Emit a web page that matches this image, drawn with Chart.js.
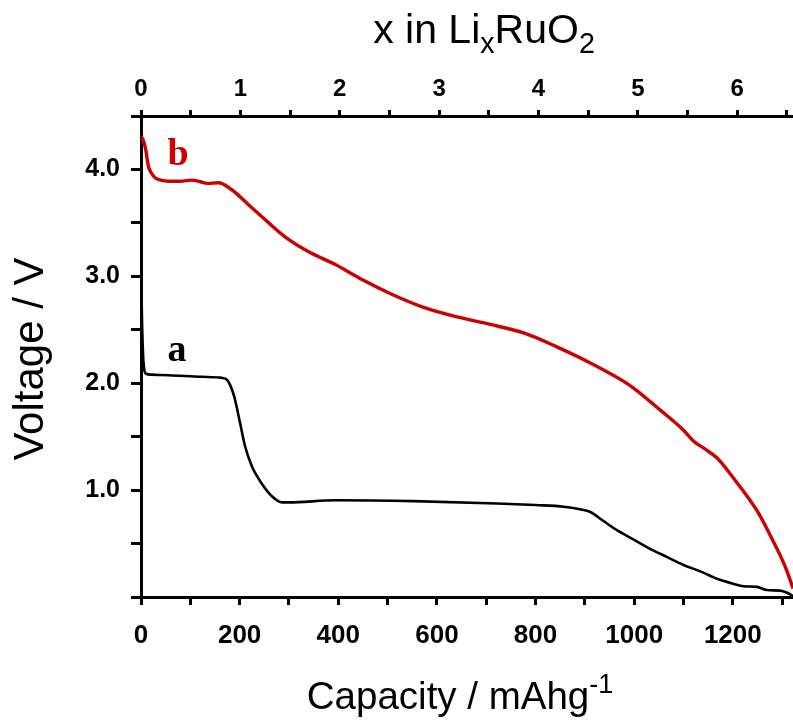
<!DOCTYPE html>
<html>
<head>
<meta charset="utf-8">
<script src="https://cdn.jsdelivr.net/npm/chart.js@4.4.0/dist/chart.umd.min.js"></script>
<style>
  html, body { margin: 0; padding: 0; background: #fff; }
</style>
</head>
<body>
<canvas id="myChart" width="793" height="725"></canvas>
<script>
// curve a (black)
const capA = [0, 2, 5, 10, 20, 56, 124, 164, 175, 181, 186, 191, 201, 211, 225, 245, 266, 286, 300, 394, 553, 722, 800, 857, 890, 911, 935, 965, 1000, 1032, 1066, 1100, 1134, 1168, 1200, 1222, 1249, 1269, 1296, 1310, 1322];
const voltA = [3.12, 2.6, 2.2, 2.09, 2.08, 2.075, 2.06, 2.05, 2.03, 1.98, 1.92, 1.84, 1.625, 1.41, 1.22, 1.06, 0.94, 0.885, 0.885, 0.905, 0.897, 0.875, 0.86, 0.845, 0.82, 0.795, 0.72, 0.625, 0.535, 0.45, 0.375, 0.30, 0.24, 0.17, 0.125, 0.10, 0.095, 0.065, 0.06, 0.04, 0.01];

// curve b (red)
const capB = [0, 4, 9, 15, 22, 29, 40, 56, 80, 103, 120, 134, 157, 184, 218, 259, 292, 340, 394, 448, 505, 573, 641, 708, 776, 843, 911, 978, 1000, 1050, 1100, 1120, 1145, 1168, 1200, 1250, 1282, 1300, 1310, 1322];
const voltB = [4.31, 4.28, 4.2, 4.03, 3.96, 3.92, 3.90, 3.89, 3.89, 3.90, 3.885, 3.87, 3.875, 3.81, 3.67, 3.50, 3.37, 3.23, 3.11, 2.97, 2.84, 2.71, 2.62, 2.55, 2.47, 2.34, 2.19, 2.02, 1.95, 1.76, 1.56, 1.46, 1.38, 1.30, 1.12, 0.80, 0.52, 0.35, 0.24, 0.08];

// axes
const capMax = 1322;
const mAhPerLi = 201.5;
const capTicks = [0, 100, 200, 300, 400, 500, 600, 700, 800, 900, 1000, 1100, 1200, 1300];
const liTicks = [0, 0.5, 1, 1.5, 2, 2.5, 3, 3.5, 4, 4.5, 5, 5.5, 6, 6.5];
const voltTicks = [0, 0.5, 1, 1.5, 2, 2.5, 3, 3.5, 4, 4.5];

// curve labels
const curveNames = ['a', 'b'];
const curveColors = ['#000000', '#cc0000'];
const nameCap = [73, 75];
const nameVolt = [2.21, 4.04];

const sans = "'Liberation Sans', Arial, Helvetica, sans-serif";
const serif = "'Liberation Serif', 'Times New Roman', serif";

function toPts(xs, ys) {
    return xs.map((x, i) => ({ x: x, y: ys[i] }));
}

function drawRuns(c, runs, cx, baseY, size) {
    let total = 0;
    runs.forEach(r => {
        c.font = (r[1] ? size * 0.7 : size) + 'px ' + sans;
        total += c.measureText(r[0]).width;
    });
    let x = cx - total / 2;
    runs.forEach(r => {
        c.font = (r[1] ? size * 0.7 : size) + 'px ' + sans;
        let dy = 0;
        if (r[1] === 1) dy = size * 0.25;
        if (r[1] === 2) dy = -size * 0.42;
        c.fillText(r[0], x, baseY + dy);
        x += c.measureText(r[0]).width;
    });
}

const textPlugin = {
    id: 'textPlugin',
    afterDraw(chart) {
        const c = chart.ctx;
        const xs = chart.scales.x, ys = chart.scales.y;
        c.save();
        c.fillStyle = '#000';
        c.textAlign = 'left';
        c.textBaseline = 'alphabetic';
        drawRuns(c, [['x in Li', 0], ['x', 1], ['RuO', 0], ['2', 1]], 484, 43, 41);
        drawRuns(c, [['Capacity / mAhg', 0], ['-1', 2]], 460, 709, 38.5);

        c.save();
        c.translate(43, 359);
        c.rotate(-Math.PI / 2);
        c.textAlign = 'center';
        c.font = '42px ' + sans;
        c.fillText('Voltage / V', 0, 0);
        c.restore();

        c.textAlign = 'center';
        c.font = 'bold 38px ' + serif;
        curveNames.forEach((n, i) => {
            c.fillStyle = curveColors[i];
            c.fillText(n, xs.getPixelForValue(nameCap[i]), ys.getPixelForValue(nameVolt[i]));
        });
        c.restore();
    }
};

function noSidePad(s) {
    s.paddingLeft = 0;
    s.paddingRight = 0;
}

const ctx = document.getElementById('myChart').getContext('2d');
const myChart = new Chart(ctx, {
    type: 'line',
    data: {
        datasets: [{
            label: 'a',
            data: toPts(capA, voltA),
            borderColor: curveColors[0],
            borderWidth: 2.6,
            pointRadius: 0,
            cubicInterpolationMode: 'monotone',
            xAxisID: 'x',
            yAxisID: 'y'
        }, {
            label: 'b',
            data: toPts(capB, voltB),
            borderColor: curveColors[1],
            borderWidth: 3.4,
            pointRadius: 0,
            cubicInterpolationMode: 'monotone',
            xAxisID: 'x',
            yAxisID: 'y'
        }]
    },
    options: {
        responsive: false,
        animation: false,
        layout: { padding: 0 },
        plugins: {
            legend: { display: false },
            tooltip: { enabled: false }
        },
        scales: {
            x: {
                type: 'linear',
                position: 'bottom',
                min: 0,
                max: capMax,
                afterBuildTicks: s => { s.ticks = capTicks.map(v => ({ value: v })); },
                afterFit: s => { s.height = 128; noSidePad(s); },
                border: { color: '#000', width: 3 },
                grid: { drawOnChartArea: false, tickLength: 8, tickWidth: 3, tickColor: '#000' },
                ticks: {
                    color: '#000',
                    font: { family: sans, size: 26, weight: 'bold' },
                    padding: 15,
                    maxRotation: 0,
                    autoSkip: false,
                    callback: v => (v % 200 === 0 ? String(v) : '')
                }
            },
            x2: {
                type: 'linear',
                position: 'top',
                min: 0,
                max: capMax / mAhPerLi,
                afterBuildTicks: s => { s.ticks = liTicks.map(v => ({ value: v })); },
                afterFit: s => { s.height = 116; noSidePad(s); },
                border: { color: '#000', width: 3 },
                grid: { drawOnChartArea: false, tickLength: 6, tickWidth: 3, tickColor: '#000' },
                ticks: {
                    color: '#000',
                    font: { family: sans, size: 24, weight: 'bold' },
                    padding: 6,
                    maxRotation: 0,
                    autoSkip: false,
                    callback: v => (Number.isInteger(v) ? String(v) : '')
                }
            },
            y: {
                type: 'linear',
                position: 'left',
                min: 0,
                max: 4.5,
                afterBuildTicks: s => { s.ticks = voltTicks.map(v => ({ value: v })); },
                afterFit: s => { s.width = 141; },
                border: { color: '#000', width: 3 },
                grid: { drawOnChartArea: false, tickLength: 10, tickWidth: 3, tickColor: '#000' },
                ticks: {
                    color: '#000',
                    font: { family: sans, size: 25, weight: 'bold' },
                    padding: 11,
                    autoSkip: false,
                    callback: v => (Number.isInteger(v) && v > 0 ? v.toFixed(1) : '')
                }
            }
        }
    },
    plugins: [textPlugin]
});
</script>
</body>
</html>
